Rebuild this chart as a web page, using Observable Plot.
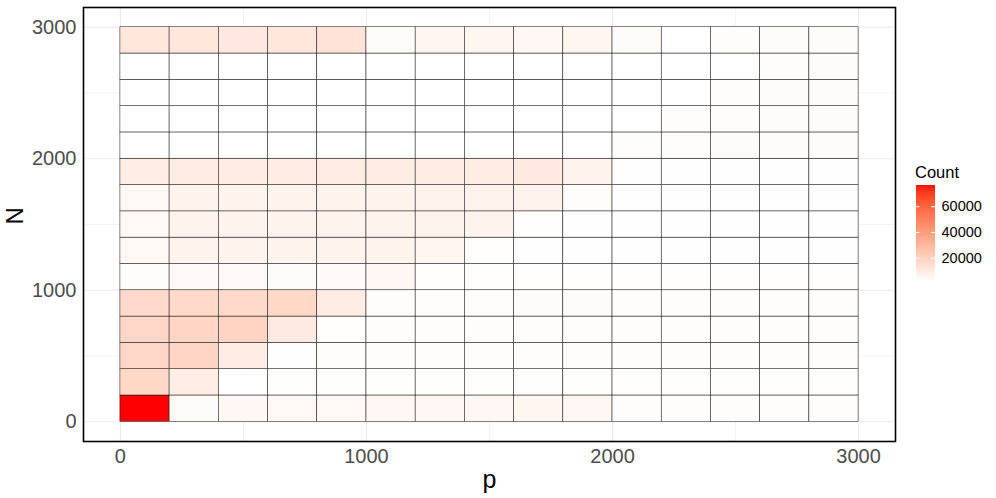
<!DOCTYPE html>
<html>
<head>
<meta charset="utf-8">
<script src="https://cdn.jsdelivr.net/npm/d3@7"></script>
<script src="https://cdn.jsdelivr.net/npm/@observablehq/plot@0.6"></script>
<style>
  html, body { margin: 0; padding: 0; background: #fff; }
  #wrap { position: relative; width: 996px; height: 498px; font-family: "Liberation Sans", Arial, Helvetica, sans-serif; }
  #legend { position: absolute; left: 900px; top: 150px; }
  #legendTitle { position: absolute; left: 915px; top: 162px; font-size: 16.5px; color: #000; line-height: 20px; }
</style>
</head>
<body>
<div id="wrap">
  <div id="chart"></div>
  <div id="legendTitle">Count</div>
  <div id="legend"></div>
</div>
<script>
// p bins (lower edges) and bin width
const pBins = [0, 200, 400, 600, 800, 1000, 1200, 1400, 1600, 1800, 2000, 2200, 2400, 2600, 2800];
const nBins = [0, 200, 400, 600, 800, 1000, 1200, 1400, 1600, 1800, 2000, 2200, 2400, 2600, 2800];
const binWidth = 200;

// Counts per N bin (row), one value per p bin
const countN0    = [76500, 3000, 4500, 4000, 4000, 4500, 4500, 4500, 5000, 4300, 2000, 2000, 2100, 2200, 2000];
const countN200  = [17000, 8500, 1300, 1800, 1800, 1800, 1800, 1800, 1800, 1800, 1800, 1800, 1800, 1800, 1800];
const countN400  = [17500, 18000, 9000, 1500, 2000, 2300, 2000, 2300, 2500, 2000, 2000, 2000, 2300, 2300, 2000];
const countN600  = [17500, 18000, 18500, 9500, 1800, 2000, 2000, 2000, 2000, 2000, 2000, 2000, 2000, 2000, 2000];
const countN800  = [16000, 16500, 16500, 17000, 9000, 2500, 2500, 2500, 2700, 2700, 2000, 2000, 2000, 2000, 2000];
const countN1000 = [2500, 3200, 3200, 3000, 3300, 4500, 1700, 1700, 1700, 1700, 1700, 1700, 1700, 1700, 1700];
const countN1200 = [4000, 6000, 6000, 6200, 6000, 6000, 5000, 1800, 1600, 1600, 1600, 1600, 1600, 1600, 1600];
const countN1400 = [4000, 6000, 6000, 6200, 6000, 6000, 6000, 6000, 1800, 1600, 1600, 1600, 1600, 1600, 1600];
const countN1600 = [4000, 6000, 6200, 6200, 6200, 6200, 6500, 6500, 7000, 2000, 1600, 1600, 1600, 1600, 1600];
const countN1800 = [8500, 9000, 9000, 9000, 9000, 9000, 9000, 9000, 10000, 6000, 1500, 1500, 1500, 1500, 1500];
const countN2000 = [1200, 1200, 1200, 1200, 1200, 1200, 1200, 1200, 1200, 1200, 2200, 2500, 2700, 2800, 2800];
const countN2200 = [1200, 1200, 1200, 1200, 1200, 1200, 1200, 1200, 1200, 1200, 1200, 2300, 2500, 2700, 2800];
const countN2400 = [1200, 1200, 1200, 1200, 1200, 1200, 1200, 1200, 1200, 1200, 1200, 1200, 2300, 2700, 2800];
const countN2600 = [1200, 1200, 1200, 1200, 1200, 1200, 1200, 1200, 1200, 1200, 1200, 1200, 1200, 2500, 2800];
const countN2800 = [11000, 11000, 10500, 11000, 12500, 3000, 5000, 5000, 4500, 5000, 3000, 1200, 2500, 3000, 2800];

const countRows = [countN0, countN200, countN400, countN600, countN800, countN1000, countN1200,
  countN1400, countN1600, countN1800, countN2000, countN2200, countN2400, countN2600, countN2800];

// Axis ticks
const majorTicks = [0, 1000, 2000, 3000];
const minorTicks = [500, 1500, 2500];
const legendTicks = [20000, 40000, 60000];

const tiles = [];
nBins.forEach((n, i) => pBins.forEach((p, j) => tiles.push({p, N: n, count: countRows[i][j]})));

const cMin = d3.min(tiles, d => d.count);
const cMax = d3.max(tiles, d => d.count);
const colorOpts = {type: "linear", domain: [cMin, cMax], range: ["white", "red"], interpolate: "lab"};

const font = "'Liberation Sans', Arial, Helvetica, sans-serif";
const gridColor = "#EBEBEB";

const chart = Plot.plot({
  width: 996,
  height: 498,
  marginLeft: 83,
  marginRight: 101,
  marginTop: 7,
  marginBottom: 57,
  style: {fontFamily: font, background: "white"},
  x: {domain: [-150, 3150], label: null},
  y: {domain: [-150, 3150], label: null},
  color: colorOpts,
  marks: [
    Plot.ruleX(minorTicks, {stroke: gridColor, strokeWidth: 0.6}),
    Plot.ruleY(minorTicks, {stroke: gridColor, strokeWidth: 0.6}),
    Plot.ruleX(majorTicks, {stroke: gridColor, strokeWidth: 1.1}),
    Plot.ruleY(majorTicks, {stroke: gridColor, strokeWidth: 1.1}),
    Plot.rect(tiles, {
      x1: "p", x2: d => d.p + binWidth,
      y1: "N", y2: d => d.N + binWidth,
      fill: "count", stroke: "black", strokeWidth: 0.55, strokeOpacity: 0.85
    }),
    Plot.frame({stroke: "black", strokeWidth: 1.6}),
    Plot.axisX(majorTicks, {tickSize: 0, tickPadding: 7, fontSize: 20, fill: "#4D4D4D", tickFormat: d => String(d), label: null}),
    Plot.axisY(majorTicks, {tickSize: 0, tickPadding: 7, fontSize: 20, fill: "#4D4D4D", tickFormat: d => String(d), label: null}),
    Plot.text(["p"], {frameAnchor: "bottom", lineAnchor: "middle", dy: 38, fontSize: 25, fill: "black"}),
    Plot.text(["N"], {frameAnchor: "left", lineAnchor: "middle", dx: -68, rotate: -90, fontSize: 24, fill: "black"})
  ]
});
document.getElementById("chart").appendChild(chart);

// Vertical colour bar legend
const steps = d3.range(0, 120).map(k => cMin + (cMax - cMin) * k / 120);
const stepSize = (cMax - cMin) / 120;
const legend = Plot.plot({
  width: 96,
  height: 150,
  marginLeft: 15.5,
  marginRight: 61,
  marginTop: 35,
  marginBottom: 18,
  style: {fontFamily: font, background: "transparent", overflow: "visible"},
  x: {domain: [0, 1], axis: null},
  y: {domain: [cMin, cMax], axis: null},
  color: colorOpts,
  marks: [
    Plot.rect(steps, {x1: 0, x2: 1, y1: d => d, y2: d => Math.min(d + stepSize * 1.02, cMax), fill: d => d, shapeRendering: "crispEdges"}),
    Plot.ruleY(legendTicks, {x1: 0, x2: 0.2, stroke: "white", strokeWidth: 1}),
    Plot.ruleY(legendTicks, {x1: 0.8, x2: 1, stroke: "white", strokeWidth: 1}),
    Plot.axisY(legendTicks, {anchor: "right", tickSize: 0, tickPadding: 6, fontSize: 14.5, fill: "black", tickFormat: d => String(d), label: null})
  ]
});
document.getElementById("legend").appendChild(legend);
</script>
</body>
</html>
